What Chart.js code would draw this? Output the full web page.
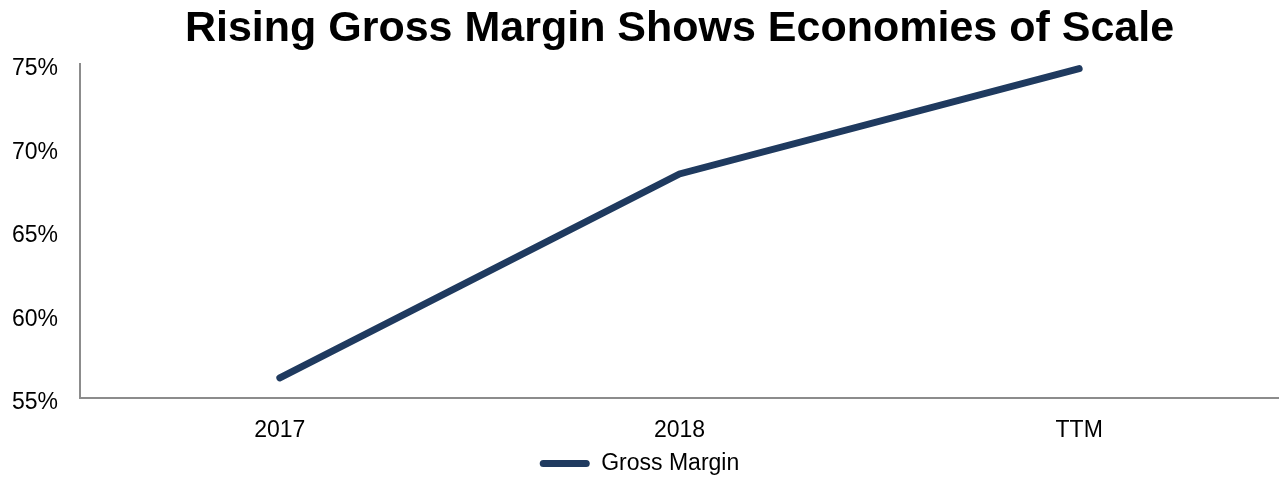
<!DOCTYPE html>
<html><head><meta charset="utf-8">
<script src="https://cdn.jsdelivr.net/npm/chart.js@4/dist/chart.umd.min.js"></script>
<style>html,body{margin:0;padding:0;background:#fff}#w{width:1279px;height:479px;position:relative}</style>
</head><body><div id="w"><canvas id="c"></canvas></div>
<script>
const categories = ["2017", "2018", "TTM"];
const grossMargin = [56.2, 68.4, 74.7];
const yTicks = [55, 60, 65, 70, 75];
const seriesName = "Gross Margin";
const titleText = "Rising Gross Margin Shows Economies of Scale";

const FONT = "'Liberation Sans', Arial, sans-serif";
const navy = "#1f3a5f";
new Chart(document.getElementById('c'), {
  type: 'line',
  data: { labels: categories, datasets: [{
    label: seriesName, data: grossMargin, borderColor: navy, backgroundColor: navy,
    borderWidth: 7, borderCapStyle: 'round', borderJoinStyle: 'miter', pointRadius: 0, tension: 0, fill: false
  }]},
  options: {
    responsive: true, maintainAspectRatio: false, animation: false,
    layout: { padding: { left: 0, right: 0, top: 0, bottom: 0 } },
    plugins: {
      title: { display: true, text: titleText, fullSize: false, color: '#000',
        font: { family: FONT, size: 43, weight: 'bold' }, padding: { top: 3, bottom: 9 } },
      legend: { position: 'bottom', maxHeight: 33, labels: { color: '#000', font: { family: FONT, size: 23 },
        boxWidth: 50, boxHeight: 7, padding: 6,
        generateLabels: (chart) => [{ text: seriesName, fillStyle: navy, strokeStyle: navy, lineWidth: 0,
          borderRadius: 3.5, datasetIndex: 0, hidden: false, fontColor: '#000' }] } },
      tooltip: { enabled: false }
    },
    scales: {
      x: { offset: true, grid: { display: false, drawTicks: false },
        border: { display: true, color: '#8c8c8c', width: 2 },
        afterFit: (s) => { s.height = 48; },
        ticks: { color: '#000', font: { family: FONT, size: 23 }, padding: 19 } },
      y: { min: 55, max: 75, grid: { display: false, drawTicks: false },
        border: { display: true, color: '#8c8c8c', width: 2 },
        afterFit: (s) => { s.width = 80; },
        afterBuildTicks: (s) => { s.ticks = yTicks.map(v => ({ value: v })); },
        ticks: { color: '#000', font: { family: FONT, size: 23 }, padding: 22, labelOffset: 5, callback: (v) => v + '%' } }
    }
  }
});
</script></body></html>
